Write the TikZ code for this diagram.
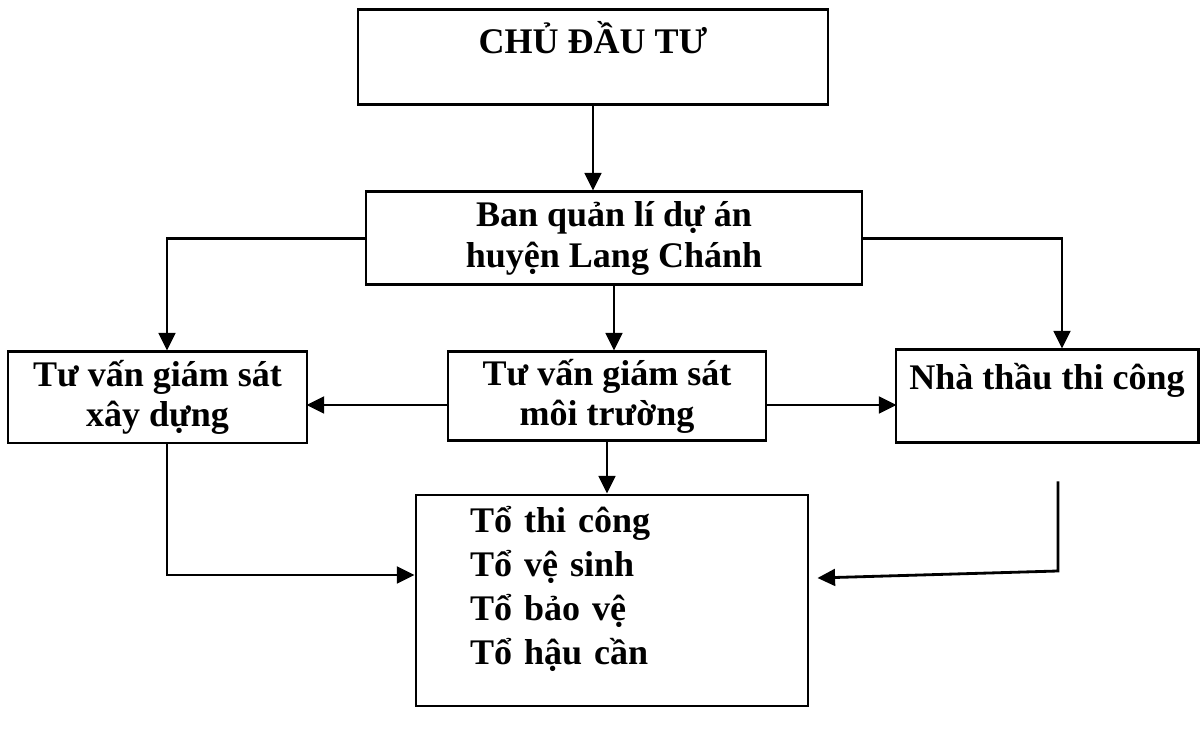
\documentclass[tikz,border=0pt]{standalone}
\usepackage{fontspec}
\setmainfont{Liberation Serif}
\usepackage{tikz}
\usetikzlibrary{positioning, arrows.meta}
\tikzset{
    unit/.style={rectangle, draw=black, line width=1.7pt, align=center, inner sep=2pt, font=\bfseries\fontsize{20.5}{23}\selectfont},
    line/.style={-{Triangle[length=10pt, width=9.5pt]}, line width=1.6pt, black}
}

\begin{document}
\begin{tikzpicture}
        	\useasboundingbox (0,0) rectangle (24.06,-14.62);
        	% Các đơn vị
        	\node (chu) [unit, minimum width=9.40cm, minimum height=1.90cm] at (11.86,-1.15) {CHỦ ĐẦU TƯ\\ \mbox{}};
        	\node (ban) [unit, minimum width=9.92cm, minimum height=1.86cm] at (12.28,-4.77) {Ban quản lí dự án\\huyện Lang Chánh};
        	\node (xd) [unit, minimum width=5.98cm, minimum height=1.82cm] at (3.15,-7.95) {Tư vấn giám sát\\xây dựng};
        	\node (mt) [unit, minimum width=6.36cm, minimum height=1.78cm] at (12.14,-7.93) {Tư vấn giám sát\\môi trường};
        	\node (nt) [unit, minimum width=6.04cm, minimum height=1.86cm] at (20.94,-7.93) {Nhà thầu thi công\\ \mbox{}};
        	\node (nhom) [unit, align=left, text width=5.68cm, inner xsep=1.08cm, minimum height=4.22cm, font=\bfseries\fontsize{20.5}{25}\selectfont] at (12.24,-12.01) {Tổ thi công\\Tổ vệ sinh\\Tổ bảo vệ\\Tổ hậu cần\\[-0.4em] \mbox{}};
        	\coordinate (goc) at (21.16,-11.42);
        	
        	% Mũi tên
        	\draw[line] (chu.south) -- (chu.south |- ban.north);
        	\draw[line] (ban.west) -| ([xshift=0.19cm]xd.north);
        	\draw[line] (ban.south) -- (ban.south |- mt.north);
        	\draw[line] (ban.east) -| ([xshift=0.30cm]nt.north);
        	\draw[line] ([yshift=-0.17cm]mt.west) -- ++(-2.80,0);
        	\draw[line] ([yshift=-0.17cm]mt.east) -- ++(2.58,0);
        	\draw[line] (mt.south) -- (mt.south |- nhom.north);
        	\draw[line] ([xshift=0.19cm]xd.south) |- ([yshift=0.51cm]nhom.west);
        	\draw[line] ([xshift=0.22cm, yshift=-0.74cm]nt.south) -- (goc) -- ([xshift=0.16cm, yshift=0.45cm]nhom.east);
        \end{tikzpicture}
\end{document}
